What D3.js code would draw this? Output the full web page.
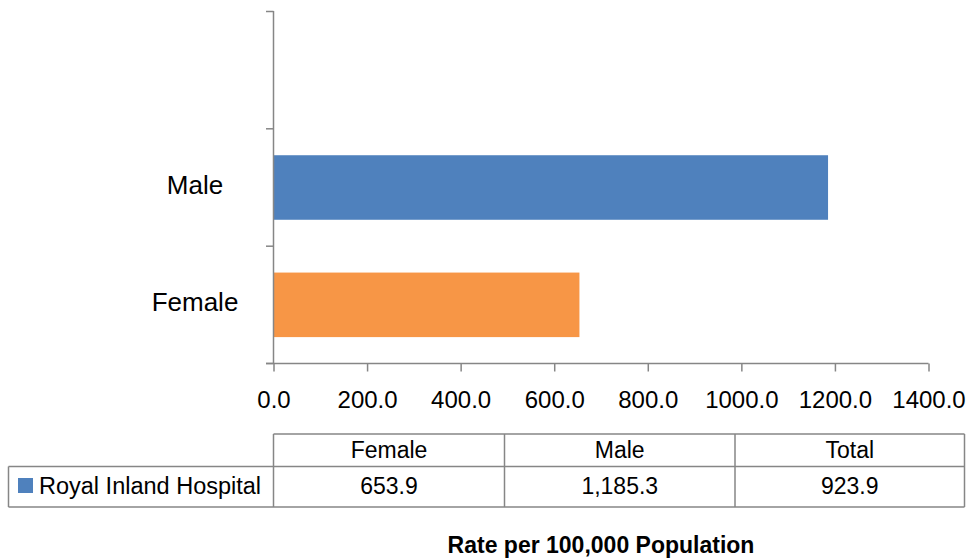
<!DOCTYPE html>
<html><head><meta charset="utf-8">
<script src="https://cdn.jsdelivr.net/npm/d3@7"></script>
<style>
html,body{margin:0;padding:0;background:#fff;}
svg{display:block;font-family:"Liberation Sans",Arial,sans-serif;}
</style></head>
<body><svg id="chart" width="967" height="558"></svg>
<script>
// ---- data ----
const categories = ["", "Male", "Female"];          // top to bottom
const barCategories = ["Male", "Female"];
const barValues = [1185.3, 653.9];
const barColors = ["#4F81BD", "#F79646"];
const xTicks = [0, 200, 400, 600, 800, 1000, 1200, 1400];
const tableColumns = ["Female", "Male", "Total"];
const tableLabels = ["653.9", "1,185.3", "923.9"];
const seriesName = "Royal Inland Hospital";
const axisTitle = "Rate per 100,000 Population";

const svg = d3.select("#chart");
const axisColor = "#868686";

const x = d3.scaleLinear().domain([0, 1400]).range([273.5, 928.5]);
const y = d3.scaleBand().domain(categories).range([11.5, 363.5]).paddingInner(0.45).paddingOuter(0.225);

// bars
svg.append("g").selectAll("rect").data(barCategories).join("rect")
  .attr("x", x(0))
  .attr("y", d => y(d))
  .attr("width", (d, i) => x(barValues[i]) - x(0))
  .attr("height", y.bandwidth())
  .attr("fill", (d, i) => barColors[i]);

// y axis
const yEdges = [11.5, 128.8, 246.2, 363.5];
const gy = svg.append("g");
gy.append("line").attr("x1", 273.5).attr("x2", 273.5).attr("y1", 11).attr("y2", 364).attr("stroke", axisColor).attr("stroke-width", 1.5);
gy.selectAll("line.t").data(yEdges).join("line").attr("class", "t")
  .attr("x1", 266).attr("x2", 273.5).attr("y1", d => d).attr("y2", d => d)
  .attr("stroke", axisColor).attr("stroke-width", 1.5);
gy.selectAll("text").data(categories.filter(c => c)).join("text")
  .attr("x", 195).attr("y", d => y(d) + y.bandwidth() / 2 + 6)
  .attr("text-anchor", "middle").attr("font-size", 26).attr("fill", "#000")
  .text(d => d);

// x axis
const xAxis = d3.axisBottom(x).tickValues(xTicks).tickSize(8).tickSizeOuter(0)
  .tickFormat(d => d3.format(".1f")(d));
const gx = svg.append("g").attr("transform", "translate(0,363.5)").call(xAxis);
gx.select(".domain").attr("stroke", axisColor).attr("stroke-width", 1.5).attr("d", "M266,0H928.5");
gx.selectAll(".tick line").attr("stroke", axisColor).attr("stroke-width", 1.5);
gx.selectAll(".tick text").attr("font-size", 24).attr("fill", "#000").attr("dy", 0).attr("y", 44)
  .attr("font-family", "Liberation Sans, Arial, sans-serif");

// data table
const colX = [273.5, 504.5, 735, 964.5];
const tTop = 434, tMid = 466.5, tBot = 507;
const tg = svg.append("g").attr("stroke", axisColor).attr("stroke-width", 1.5).attr("fill", "none");
tg.append("line").attr("x1", colX[0]).attr("x2", colX[3]).attr("y1", tTop).attr("y2", tTop);
tg.append("line").attr("x1", 8.5).attr("x2", colX[3]).attr("y1", tMid).attr("y2", tMid);
tg.append("line").attr("x1", 8.5).attr("x2", colX[3]).attr("y1", tBot).attr("y2", tBot);
tg.append("line").attr("x1", 8.5).attr("x2", 8.5).attr("y1", tMid).attr("y2", tBot);
tg.selectAll("line.c").data(colX).join("line").attr("class", "c")
  .attr("x1", d => d).attr("x2", d => d).attr("y1", tTop).attr("y2", tBot);

const tt = svg.append("g").attr("font-size", 23).attr("fill", "#000").attr("text-anchor", "middle");
tt.selectAll("text.h").data(tableColumns).join("text").attr("class", "h")
  .attr("x", (d, i) => (colX[i] + colX[i + 1]) / 2).attr("y", 458).text(d => d);
tt.selectAll("text.v").data(tableLabels).join("text").attr("class", "v")
  .attr("x", (d, i) => (colX[i] + colX[i + 1]) / 2).attr("y", 494).text(d => d);

svg.append("rect").attr("x", 18).attr("y", 478).attr("width", 15).attr("height", 15).attr("fill", barColors[0]);
svg.append("text").attr("x", 39).attr("y", 494).attr("font-size", 23.5).attr("fill", "#000").text(seriesName);

// axis title
svg.append("text").attr("x", 601).attr("y", 553).attr("text-anchor", "middle")
  .attr("font-size", 23).attr("font-weight", "bold").attr("fill", "#000").text(axisTitle);
</script></body></html>
